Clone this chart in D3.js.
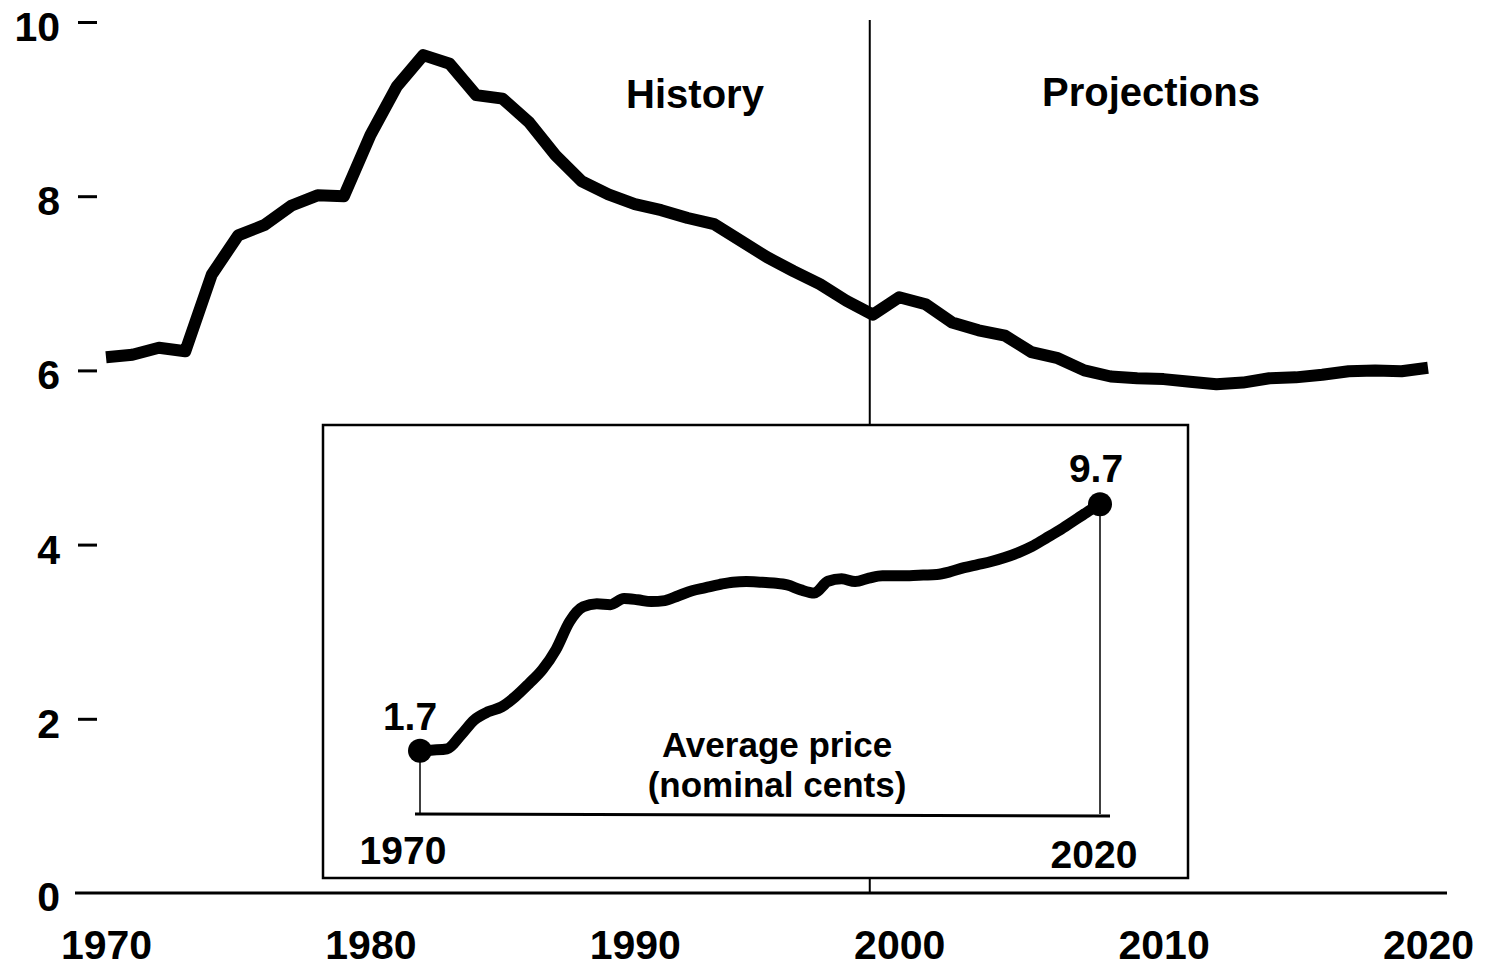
<!DOCTYPE html>
<html>
<head>
<meta charset="utf-8">
<script src="https://cdn.jsdelivr.net/npm/d3@7/dist/d3.min.js"></script>
<style>
  html, body { margin: 0; padding: 0; background: #fff; }
  svg { display: block; }
  text { font-family: "Liberation Sans", Arial, Helvetica, sans-serif; font-weight: bold; fill: #000; }
</style>
</head>
<body>
<script>
// ---- Data ----
const years = d3.range(1970, 2021);
// Real price (main series)
const mainValues = [
  6.15, 6.18, 6.26, 6.22, 7.10, 7.55, 7.67, 7.89, 8.01, 8.00,
  8.70, 9.26, 9.62, 9.52, 9.16, 9.12, 8.85, 8.47, 8.17, 8.02,
  7.91, 7.84, 7.75, 7.68, 7.49, 7.30, 7.14, 6.99, 6.80, 6.64,
  6.84, 6.76, 6.55, 6.46, 6.40, 6.21, 6.14, 6.00, 5.93, 5.91,
  5.90, 5.87, 5.84, 5.86, 5.91, 5.92, 5.95, 5.99, 6.00, 5.99,
  6.03
];
// Average price, nominal cents (inset series)
const insetValues = [
  1.70, 1.72, 1.76, 2.20, 2.70, 2.96, 3.12, 3.45, 3.87, 4.33,
  4.98, 5.89, 6.37, 6.47, 6.44, 6.64, 6.60, 6.54, 6.57, 6.73,
  6.89, 6.99, 7.09, 7.17, 7.19, 7.17, 7.14, 7.08, 6.92, 6.82,
  7.20, 7.28, 7.19, 7.30, 7.38, 7.38, 7.38, 7.40, 7.42, 7.51,
  7.64, 7.74, 7.84, 7.97, 8.13, 8.33, 8.59, 8.85, 9.14, 9.43,
  9.70
];
const yTicks = [0, 2, 4, 6, 8, 10];
const xTicks = [1970, 1980, 1990, 2000, 2010, 2020];
const historyEndYear = 1999;
const periodLabels = ["History", "Projections"];
const insetLabels = ["Average price", "(nominal cents)"];

// ---- Layout ----
const W = 1495, H = 974;
const svg = d3.select("body").append("svg").attr("width", W).attr("height", H);

const x = d3.scaleLinear().domain([1970, 2020]).range([106, 1428]);
const y = d3.scaleLinear().domain([0, 10]).range([893, 22]);

// Y axis
const yAxis = d3.axisLeft(y).tickValues(yTicks.filter(d => d > 0)).tickSize(19).tickPadding(18)
  .tickFormat(d3.format("d"));
const gy = svg.append("g").attr("transform", "translate(97,0)").call(yAxis);
gy.select(".domain").remove();
gy.selectAll(".tick line").attr("stroke", "#000").attr("stroke-width", 3);
gy.selectAll(".tick text").attr("font-size", 41).attr("dy", "0.45em")
  .style("font-family", "'Liberation Sans', Arial, sans-serif").style("font-weight", "bold");
// zero label
svg.append("text").attr("x", 60).attr("y", y(0)).attr("dy", "0.45em")
  .attr("text-anchor", "end").attr("font-size", 41).text(yTicks[0]);

// X axis line
svg.append("line").attr("x1", 75).attr("x2", 1447).attr("y1", y(0)).attr("y2", y(0))
  .attr("stroke", "#000").attr("stroke-width", 3);
const xAxis = d3.axisBottom(x).tickValues(xTicks).tickSize(0).tickPadding(0).tickFormat(d3.format("d"));
const gx = svg.append("g").attr("transform", `translate(0,${y(0)})`).call(xAxis);
gx.select(".domain").remove();
gx.selectAll(".tick text").attr("font-size", 41).attr("dy", 0).attr("y", 66)
  .style("font-family", "'Liberation Sans', Arial, sans-serif").style("font-weight", "bold");

// Divider
svg.append("line").attr("x1", x(historyEndYear) - 3).attr("x2", x(historyEndYear) - 3)
  .attr("y1", 20).attr("y2", y(0)).attr("stroke", "#000").attr("stroke-width", 2);

// Period labels
svg.append("text").attr("x", 695).attr("y", 108).attr("text-anchor", "middle")
  .attr("font-size", 40).text(periodLabels[0]);
svg.append("text").attr("x", 1151).attr("y", 106).attr("text-anchor", "middle")
  .attr("font-size", 40).text(periodLabels[1]);

// Main line
const mainData = years.map((yr, i) => ({ yr, v: mainValues[i] }));
svg.append("path").datum(mainData)
  .attr("d", d3.line().x(d => x(d.yr)).y(d => y(d.v)))
  .attr("fill", "none").attr("stroke", "#000").attr("stroke-width", 12)
  .attr("stroke-linejoin", "round").attr("stroke-linecap", "butt");

// ---- Inset ----
const box = { x: 323, y: 425, w: 865, h: 453 };
svg.append("rect").attr("x", box.x).attr("y", box.y).attr("width", box.w).attr("height", box.h)
  .attr("fill", "#fff").attr("stroke", "#000").attr("stroke-width", 2.5);

const ix = d3.scaleLinear().domain([1970, 2020]).range([420, 1100]);
const iy = d3.scaleLinear().domain([0, 10]).range([803, 495]);
const baseY = 814;

svg.append("line").attr("x1", ix(1970) - 5).attr("x2", ix(2020) + 10)
  .attr("y1", baseY).attr("y2", baseY + 2).attr("stroke", "#000").attr("stroke-width", 3);

const insetData = years.map((yr, i) => ({ yr, v: insetValues[i] }));
const ends = [insetData[0], insetData[insetData.length - 1]];
svg.selectAll(".drop").data(ends).join("line")
  .attr("x1", d => ix(d.yr)).attr("x2", d => ix(d.yr))
  .attr("y1", d => iy(d.v)).attr("y2", baseY)
  .attr("stroke", "#000").attr("stroke-width", 1.5);

svg.append("path").datum(insetData)
  .attr("d", d3.line().curve(d3.curveMonotoneX).x(d => ix(d.yr)).y(d => iy(d.v)))
  .attr("fill", "none").attr("stroke", "#000").attr("stroke-width", 11)
  .attr("stroke-linejoin", "round").attr("stroke-linecap", "round");

svg.selectAll(".dot").data(ends).join("circle")
  .attr("cx", d => ix(d.yr)).attr("cy", d => iy(d.v)).attr("r", 12).attr("fill", "#000");

// value labels
svg.append("text").attr("x", ix(1970) - 10).attr("y", 730).attr("text-anchor", "middle")
  .attr("font-size", 39).text(d3.format(".1f")(insetValues[0]));
svg.append("text").attr("x", ix(2020) - 4).attr("y", 482).attr("text-anchor", "middle")
  .attr("font-size", 39).text(d3.format(".1f")(insetValues[insetValues.length - 1]));

// year labels inside inset
svg.append("text").attr("x", ix(1970) - 17).attr("y", 864).attr("text-anchor", "middle")
  .attr("font-size", 39).text(xTicks[0]);
svg.append("text").attr("x", ix(2020) - 6).attr("y", 868).attr("text-anchor", "middle")
  .attr("font-size", 39).text(xTicks[xTicks.length - 1]);

svg.append("text").attr("x", 777).attr("y", 757).attr("text-anchor", "middle")
  .attr("font-size", 35).text(insetLabels[0]);
svg.append("text").attr("x", 777).attr("y", 797).attr("text-anchor", "middle")
  .attr("font-size", 35).text(insetLabels[1]);
</script>
</body>
</html>
